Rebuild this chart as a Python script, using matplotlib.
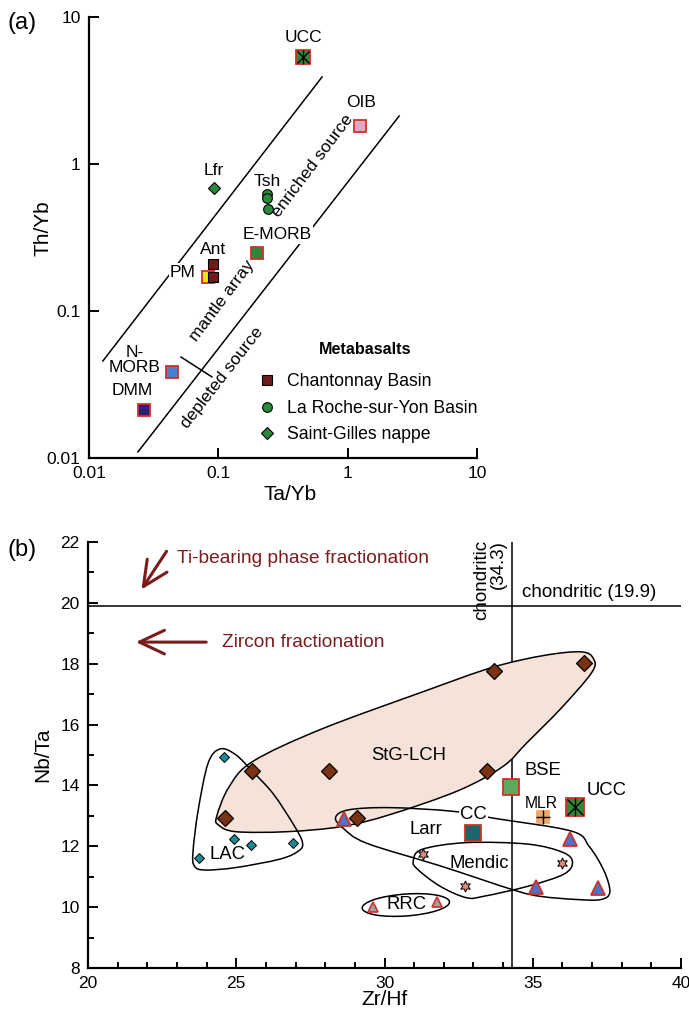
import matplotlib.pyplot as plt
import numpy as np
from matplotlib.path import Path
from matplotlib.patches import PathPatch, Ellipse

plt.rcParams['font.family'] = ['Liberation Sans', 'DejaVu Sans']

# ---- (a) Th/Yb vs Ta/Yb ----
chant_tayb = [0.091, 0.091]
chant_thyb = [0.209, 0.170]
roche_tayb = [0.238, 0.238, 0.240]
roche_thyb = [0.625, 0.587, 0.494]
stgilles_tayb = [0.0927]
stgilles_thyb = [0.687]

refa_names = ['UCC', 'OIB', 'E-MORB', 'PM', 'N-MORB', 'DMM']
refa_tayb = [0.452, 1.25, 0.199, 0.083, 0.0439, 0.0266]
refa_thyb = [5.35, 1.81, 0.248, 0.170, 0.0385, 0.0212]

# mantle array boundaries
upper_x = [0.0128, 0.634]
upper_y = [0.0457, 3.91]
lower_x = [0.0239, 2.5]
lower_y = [0.011, 2.12]
split_x = [0.0515, 0.0893]
split_y = [0.0486, 0.0356]

# ---- (b) Nb/Ta vs Zr/Hf ----
stg_zrhf = [33.68, 36.72, 25.53, 28.14, 33.47, 24.63, 29.07]
stg_nbta = [17.77, 18.01, 14.48, 14.48, 14.48, 12.93, 12.93]
lac_zrhf = [24.6, 24.91, 25.51, 26.91, 23.76]
lac_nbta = [14.95, 12.23, 12.05, 12.12, 11.63]
cc_zrhf = [28.62, 36.24, 35.12, 37.19]
cc_nbta = [12.90, 12.25, 10.66, 10.64]
rrc_zrhf = [29.6, 31.76]
rrc_nbta = [10.0, 10.18]
mendic_zrhf = [31.3, 32.73, 36.0]
mendic_nbta = [11.74, 10.69, 11.44]

refb_names = ['BSE', 'UCC', 'MLR', 'Larr']
refb_zrhf = [34.28, 36.43, 35.35, 33.0]
refb_nbta = [13.95, 13.3, 12.95, 12.45]

chondritic_zrhf = 34.3
chondritic_nbta = 19.9

# field outlines (Zr/Hf, Nb/Ta)
stg_field = [(24.34, 12.98), (24.75, 13.94), (25.56, 14.79), (27.87, 15.85),
             (31.33, 17.09), (33.64, 17.88), (35.37, 18.27), (36.64, 18.39),
             (37.05, 18.16), (36.99, 17.71), (35.95, 16.53), (34.80, 15.40),
             (33.99, 14.62), (32.49, 13.83), (30.18, 13.04), (28.56, 12.65),
             (26.71, 12.48), (24.98, 12.48), (24.40, 12.70)]
lac_field = [(24.46, 15.20), (24.98, 15.01), (25.56, 14.45), (26.25, 13.72),
             (26.94, 12.70), (27.23, 12.14), (27.12, 11.86), (26.48, 11.58),
             (24.98, 11.30), (23.94, 11.22), (23.59, 11.35), (23.54, 11.80),
             (23.71, 13.15), (24.05, 14.73)]
cc_field = [(28.35, 12.95), (28.8, 13.2), (30.2, 13.27), (32.3, 13.15),
            (33.7, 12.92), (36.3, 12.5), (36.9, 12.0), (37.4, 11.2),
            (37.6, 10.5), (37.3, 10.25), (36.5, 10.25), (35.3, 10.35),
            (34.4, 10.55), (31.9, 11.35), (29.4, 12.1), (28.6, 12.6)]
mendic_field = [(30.97, 11.52), (31.27, 11.9), (32.76, 12.12), (34.85, 12.07),
                (36.04, 11.79), (36.34, 11.46), (36.04, 11.08), (34.85, 10.69),
                (33.36, 10.36), (32.76, 10.31), (31.87, 10.69), (31.12, 11.24)]


def smooth_outline(points):
    # closed Catmull-Rom loop turned into cubic Bezier segments
    p = np.array(points)
    n = len(p)
    verts = [p[0]]
    codes = [Path.MOVETO]
    for i in range(n):
        p0, p1, p2, p3 = p[i - 1], p[i], p[(i + 1) % n], p[(i + 2) % n]
        verts += [p1 + (p2 - p0) / 6, p2 - (p3 - p1) / 6, p2]
        codes += [Path.CURVE4] * 3
    return Path(verts, codes)


RED = '#d0302a'
DARKRED = '#7b1c1c'

fig = plt.figure(figsize=(6.89, 10.16), dpi=100)
axa = fig.add_axes([89 / 689, 1 - 458 / 1016, 388 / 689, 441 / 1016])
axb = fig.add_axes([88 / 689, 1 - 968 / 1016, 593 / 689, 426 / 1016])

for ax in (axa, axb):
    ax.spines['top'].set_visible(False)
    ax.spines['right'].set_visible(False)
    ax.spines['left'].set_linewidth(1.6)
    ax.spines['bottom'].set_linewidth(1.6)

# ---- panel (a) ----
axa.set_xscale('log')
axa.set_yscale('log')
axa.set_xlim(0.01, 10)
axa.set_ylim(0.01, 10)
axa.set_xticks([0.01, 0.1, 1, 10])
axa.set_xticklabels(['0.01', '0.1', '1', '10'])
axa.set_yticks([0.01, 0.1, 1, 10])
axa.set_yticklabels(['0.01', '0.1', '1', '10'])
axa.minorticks_off()
axa.tick_params(direction='in', length=7, width=1.4, labelsize=12.5, pad=6)

axa.plot(upper_x, upper_y, color='k', lw=1.1, zorder=1)
axa.plot(lower_x, lower_y, color='k', lw=1.1, zorder=1)
axa.plot(split_x, split_y, color='k', lw=1.1, zorder=1)

axa.text(0.54, 0.969, 'enriched source', rotation=53, fontsize=12.5,
         ha='center', va='center', rotation_mode='anchor')
axa.text(0.107, 0.117, 'mantle array', rotation=53, fontsize=12.5,
         ha='center', va='center', rotation_mode='anchor')
axa.text(0.107, 0.035, 'depleted source', rotation=52, fontsize=12.5,
         ha='center', va='center', rotation_mode='anchor')

refa_colors = ['#2a8a3a', '#e6a6c7', '#2a8a3a', '#f5e50a', '#4a7fd0', '#2b1f7a']
for i in range(6):
    axa.plot(refa_tayb[i], refa_thyb[i], 's', ms=10 if i == 0 else 9,
             mfc=refa_colors[i], mec=RED, mew=1.3, zorder=3)
axa.plot(refa_tayb[0], refa_thyb[0], 'x', ms=9, color='k', mew=1.0, zorder=4)
axa.plot(refa_tayb[0], refa_thyb[0], '|', ms=10, color='k', mew=1.0, zorder=4)

h1, = axa.plot(chant_tayb, chant_thyb, 's', ms=6.5, mfc='#6e1c1c', mec='k',
               mew=0.8, ls='none', zorder=4, label='Chantonnay Basin')
h2, = axa.plot(roche_tayb, roche_thyb, 'o', ms=7, mfc='#2a8a3a', mec='k',
               mew=0.8, ls='none', zorder=4, label='La Roche-sur-Yon Basin')
h3, = axa.plot(stgilles_tayb, stgilles_thyb, 'D', ms=6.5, mfc='#2a8a3a', mec='k',
               mew=0.8, ls='none', zorder=4, label='Saint-Gilles nappe')

lab_kw = dict(fontsize=12.5, ha='center', va='center', zorder=2)
white = dict(facecolor='white', edgecolor='none', pad=1)
axa.text(0.452, 7.2, 'UCC', **lab_kw)
axa.text(1.28, 2.6, 'OIB', **lab_kw)
axa.text(0.0927, 0.898, 'Lfr', **lab_kw)
axa.text(0.238, 0.766, 'Tsh', **lab_kw)
axa.text(0.285, 0.329, 'E-MORB', bbox=white, **lab_kw)
axa.text(0.091, 0.264, 'Ant', **lab_kw)
axa.text(0.0533, 0.184, 'PM', bbox=white, **lab_kw)
axa.text(0.0227, 0.0464, 'N-\nMORB', linespacing=1.0, **lab_kw)
axa.text(0.0215, 0.0286, 'DMM', **lab_kw)

axa.legend(handles=[h1, h2, h3], loc='lower left',
           bbox_to_anchor=(0.41, 0.005), frameon=False, fontsize=12.7,
           handlelength=0.8, handletextpad=0.7, labelspacing=0.55,
           borderpad=0.2)
axa.text(0.711, 0.245, 'Metabasalts', transform=axa.transAxes, fontsize=11.6,
         fontweight='bold', ha='center', va='center')

axa.set_xlabel('Ta/Yb', fontsize=15)
axa.set_ylabel('Th/Yb', fontsize=15)
axa.xaxis.set_label_coords(0.518, -0.061)
axa.yaxis.set_label_coords(-0.095, 0.52)

# ---- panel (b) ----
axb.set_xlim(20, 40)
axb.set_ylim(8, 22)
axb.set_xticks(np.arange(20, 41, 5))
axb.set_xticks(np.arange(20, 41, 1), minor=True)
axb.set_yticks(np.arange(8, 23, 2))
axb.set_yticks(np.arange(9, 22, 2), minor=True)
axb.tick_params(which='both', direction='in', width=1.4, labelsize=12.5, pad=6)
axb.tick_params(which='major', length=7)
axb.tick_params(which='minor', length=4)

axb.axhline(chondritic_nbta, color='k', lw=1.1, zorder=1)
axb.axvline(chondritic_zrhf, color='k', lw=1.1, zorder=1)
axb.text(34.64, 20.05, 'chondritic (19.9)', fontsize=13.5, ha='left', va='bottom')
axb.text(33.55, 22.07, 'chondritic\n(34.3)', fontsize=13.5, rotation=90,
         ha='center', va='top', multialignment='right', linespacing=1.0,
         clip_on=False)

head = '->,head_length=1.8,head_width=0.85'
axb.annotate('', xy=(21.75, 20.36), xytext=(22.7, 21.77),
             arrowprops=dict(arrowstyle=head, color=DARKRED, lw=2.2))
axb.annotate('', xy=(21.52, 18.71), xytext=(24.08, 18.71),
             arrowprops=dict(arrowstyle=head, color=DARKRED, lw=2.2))
axb.text(23.0, 21.47, 'Ti-bearing phase fractionation', color=DARKRED,
         fontsize=13.8, ha='left', va='center')
axb.text(24.52, 18.71, 'Zircon fractionation', color=DARKRED,
         fontsize=13.8, ha='left', va='center')

axb.add_patch(PathPatch(smooth_outline(stg_field), facecolor='#f5e2d8',
                        edgecolor='k', lw=1.1, zorder=1))
axb.add_patch(PathPatch(smooth_outline(lac_field), facecolor='none',
                        edgecolor='k', lw=1.1, zorder=1.5))
axb.add_patch(PathPatch(smooth_outline(cc_field), facecolor='none',
                        edgecolor='k', lw=1.1, zorder=1.5))
axb.add_patch(PathPatch(smooth_outline(mendic_field), facecolor='none',
                        edgecolor='k', lw=1.1, zorder=1.5))
axb.add_patch(Ellipse((30.72, 10.07), 2.95, 0.72, angle=4, facecolor='none',
                      edgecolor='k', lw=1.1, zorder=1.5))

axb.plot(stg_zrhf, stg_nbta, 'D', ms=8, mfc='#7a3312', mec='k', mew=0.9,
         ls='none', zorder=4)
axb.plot(lac_zrhf, lac_nbta, 'D', ms=5.5, mfc='#1e8a96', mec='k', mew=0.7,
         ls='none', zorder=4)
axb.plot(cc_zrhf, cc_nbta, '^', ms=10.5, mfc='#4f72c4', mec=RED, mew=1.3,
         ls='none', zorder=4)
axb.plot(rrc_zrhf, rrc_nbta, '^', ms=7, mfc='#a0a0a0', mec=RED, mew=1.2,
         ls='none', zorder=4)
axb.plot(mendic_zrhf, mendic_nbta, marker=(6, 1, 0), ms=8, mfc='#e38a7a',
         mec='k', mew=0.7, ls='none', zorder=4)

refb_colors = ['#5daa5d', '#2a8a3a', '#f0a668', '#1d6470']
refb_sizes = [12, 13, 8, 12]
refb_edges = [RED, RED, '#f0a668', RED]
for i in range(4):
    axb.plot(refb_zrhf[i], refb_nbta[i], 's', ms=refb_sizes[i],
             mfc=refb_colors[i], mec=refb_edges[i], mew=1.3, zorder=4)
axb.plot(refb_zrhf[1], refb_nbta[1], 'x', ms=12, color='k', mew=1.0, zorder=5)
axb.plot(refb_zrhf[1], refb_nbta[1], '|', ms=13, color='k', mew=1.0, zorder=5)
axb.plot(refb_zrhf[2], refb_nbta[2], '+', ms=10, color='k', mew=1.0, zorder=5)

blab = dict(fontsize=13.3, ha='center', va='center', zorder=3)
axb.text(30.8, 14.97, 'StG-LCH', **blab)
axb.text(24.72, 11.72, 'LAC', **blab)
axb.text(31.4, 12.55, 'Larr', **blab)
axb.text(33.0, 13.03, 'CC', bbox=white, **blab)
axb.text(35.35, 14.5, 'BSE', **blab)
axb.text(35.3, 13.42, 'MLR', fontsize=11.3, ha='center', va='center', zorder=3)
axb.text(37.5, 13.83, 'UCC', **blab)
axb.text(33.2, 11.44, 'Mendic', **blab)
axb.text(30.75, 10.09, 'RRC', **blab)

axb.set_xlabel('Zr/Hf', fontsize=15)
axb.set_ylabel('Nb/Ta', fontsize=15)
axb.xaxis.set_label_coords(0.5, -0.052)
axb.yaxis.set_label_coords(-0.061, 0.5)

fig.text(22 / 689, 1 - 23 / 1016, '(a)', fontsize=17, ha='center', va='center')
fig.text(22 / 689, 1 - 550 / 1016, '(b)', fontsize=17, ha='center', va='center')

fig.savefig('out.png', dpi=100)
